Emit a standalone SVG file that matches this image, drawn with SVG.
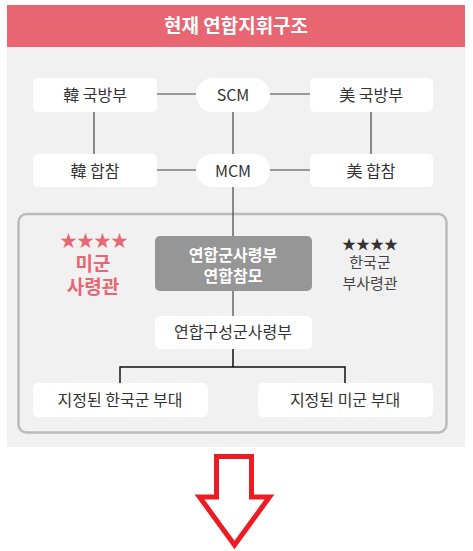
<svg xmlns="http://www.w3.org/2000/svg" width="473" height="551" viewBox="0 0 473 551">
<style>
text{font-family:"Noto Sans CJK KR","Noto Sans",sans-serif;text-anchor:middle}
.n{fill:#fff}
.t{font-size:16px;fill:#333}
.ln{stroke:#444;stroke-width:1.2;fill:none}
.lk{stroke:#111;stroke-width:1.5;fill:none}
</style>
<rect x="0" y="0" width="473" height="551" fill="#fff"/>
<rect x="7" y="47" width="458" height="400" fill="#F0F1F0"/>
<g id="header">
<rect x="7" y="5" width="458" height="42" fill="#E86672"/>
<text x="236" y="33" style="font-size:19px;font-weight:bold;fill:#fff">현재 연합지휘구조</text>
</g>
<g id="outer-box"><rect x="18.5" y="214" width="428" height="218.5" rx="8" fill="none" stroke="#BBBBBB" stroke-width="2.5"/></g>
<g id="connectors">
<path class="ln" d="M157 94H196M270 94H310M157 170H196M270 170H310M94 112V154M371 112V154M233 112V154M233 187V236M233 291V316"/>
<path class="lk" d="M233 349V367M120 383V367H345V383"/>
</g>
<g id="kr-mnd"><rect class="n" x="33" y="78" width="124" height="34" rx="5"/><text class="t" x="95" y="101">韓 국방부</text></g>
<g id="scm"><rect class="n" x="196" y="78" width="74" height="34" rx="17"/><text class="t" x="233" y="101">SCM</text></g>
<g id="us-mnd"><rect class="n" x="310" y="78" width="123" height="34" rx="5"/><text class="t" x="371" y="101">美 국방부</text></g>
<g id="kr-jcs"><rect class="n" x="33" y="154" width="124" height="33" rx="5"/><text class="t" x="95" y="177">韓 합참</text></g>
<g id="mcm"><rect class="n" x="196" y="154" width="74" height="33" rx="16.5"/><text class="t" x="233" y="177">MCM</text></g>
<g id="us-jcs"><rect class="n" x="310" y="154" width="123" height="33" rx="5"/><text class="t" x="371" y="177">美 합참</text></g>
<g id="us-commander">
<text x="94" y="247" style="font-size:17px;fill:#E86672">★★★★</text>
<text x="93" y="271" style="font-size:19px;font-weight:bold;fill:#E86672">미군</text>
<text x="93" y="294" style="font-size:19px;font-weight:bold;fill:#E86672">사령관</text>
</g>
<g id="cfc"><rect x="155" y="236" width="157" height="55" rx="5" fill="#969696"/>
<text x="233" y="261" style="font-size:16px;font-weight:bold;fill:#fff">연합군사령부</text>
<text x="233" y="282" style="font-size:16px;font-weight:bold;fill:#fff">연합참모</text></g>
<g id="kr-deputy">
<text x="370" y="249" style="font-size:14px;fill:#333">★★★★</text>
<text x="370" y="268" style="font-size:15px;fill:#444">한국군</text>
<text x="370" y="289" style="font-size:15px;fill:#444">부사령관</text>
</g>
<g id="ccc"><rect class="n" x="155" y="316" width="157" height="33" rx="5"/><text class="t" x="233" y="338">연합구성군사령부</text></g>
<g id="kr-units"><rect class="n" x="33" y="383" width="175" height="34" rx="5"/><text class="t" x="120" y="406">지정된 한국군 부대</text></g>
<g id="us-units"><rect class="n" x="258" y="383" width="175" height="34" rx="5"/><text class="t" x="345" y="406">지정된 미군 부대</text></g>
<g id="arrow"><polygon points="216.5,456.5 251.5,456.5 251.5,497 269.5,497 234.5,545 199.5,497 216.5,497" fill="none" stroke="#ED1C24" stroke-width="5"/></g>
</svg>
